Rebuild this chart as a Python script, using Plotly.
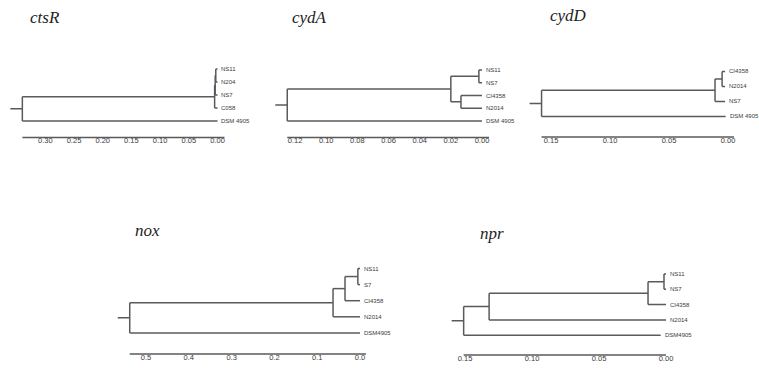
import plotly.graph_objects as go

W, H = 759, 368

# ---------------- data ----------------
genes = ["ctsR", "cydA", "cydD", "nox", "npr"]

ctsR_leaves = ["NS11", "N204", "NS7", "C058", "DSM 4905"]
ctsR_tip_heights = [0.0, 0.0, 0.0, 0.0, 0.0]
ctsR_node_children = [[0, 1], [5, 2], [6, 3], [7, 4]]
ctsR_node_heights = [0.003, 0.004, 0.005, 0.340]
ctsR_ticks = [0.30, 0.25, 0.20, 0.15, 0.10, 0.05, 0.00]

cydA_leaves = ["NS11", "NS7", "CI4358", "N2014", "DSM 4905"]
cydA_tip_heights = [0.0, 0.0, 0.0, 0.0, 0.0]
cydA_node_children = [[0, 1], [2, 3], [5, 6], [7, 4]]
cydA_node_heights = [0.002, 0.0135, 0.020, 0.125]
cydA_ticks = [0.12, 0.10, 0.08, 0.06, 0.04, 0.02, 0.00]

cydD_leaves = ["CI4358", "N2014", "NS7", "DSM 4905"]
cydD_tip_heights = [0.0025, 0.0025, 0.0025, 0.002]
cydD_node_children = [[0, 1], [4, 2], [5, 3]]
cydD_node_heights = [0.005, 0.011, 0.158]
cydD_ticks = [0.15, 0.10, 0.05, 0.00]

nox_leaves = ["NS11", "S7", "CI4358", "N2014", "DSM4905"]
nox_tip_heights = [0.0, 0.0, 0.0, 0.0, 0.0]
nox_node_children = [[0, 1], [5, 2], [6, 3], [7, 4]]
nox_node_heights = [0.005, 0.035, 0.063, 0.538]
nox_ticks = [0.5, 0.4, 0.3, 0.2, 0.1, 0.0]

npr_leaves = ["NS11", "NS7", "CI4358", "N2014", "DSM4905"]
npr_tip_heights = [0.0, 0.0, 0.0, 0.0, 0.004]
npr_node_children = [[0, 1], [5, 2], [6, 3], [7, 4]]
npr_node_heights = [0.0015, 0.0134, 0.132, 0.151]
npr_ticks = [0.15, 0.10, 0.05, 0.00]

# ---------------- layout (pixel placement of each panel) ----------------
panels = [
    dict(gene=genes[0], leaves=ctsR_leaves, tips=ctsR_tip_heights, children=ctsR_node_children,
         heights=ctsR_node_heights, ticks=ctsR_ticks, fmt="{:.2f}",
         zero_px=217.5, ppu=574, row0=69, row_px=13, scale_px=137.5, ext=7, tx=28, ty=17),
    dict(gene=genes[1], leaves=cydA_leaves, tips=cydA_tip_heights, children=cydA_node_children,
         heights=cydA_node_heights, ticks=cydA_ticks, fmt="{:.2f}",
         zero_px=482, ppu=1558, row0=70, row_px=12.75, scale_px=137.5, ext=7, tx=290, ty=17),
    dict(gene=genes[2], leaves=cydD_leaves, tips=cydD_tip_heights, children=cydD_node_children,
         heights=cydD_node_heights, ticks=cydD_ticks, fmt="{:.2f}",
         zero_px=728, ppu=1180, row0=71.5, row_px=15, scale_px=137, ext=6, tx=548, ty=16),
    dict(gene=genes[3], leaves=nox_leaves, tips=nox_tip_heights, children=nox_node_children,
         heights=nox_node_heights, ticks=nox_ticks, fmt="{:.1f}",
         zero_px=360, ppu=428, row0=268.5, row_px=16.1, scale_px=354, ext=6, tx=133, ty=230),
    dict(gene=genes[4], leaves=npr_leaves, tips=npr_tip_heights, children=npr_node_children,
         heights=npr_node_heights, ticks=npr_ticks, fmt="{:.2f}",
         zero_px=666, ppu=1340, row0=274, row_px=15.3, scale_px=355, ext=0, tx=478, ty=233),
]

LINE = "#5a5a5a"
TXT = "#3a3a3a"

fig = go.Figure()
annotations = []
layout = {}

for i, p in enumerate(panels):
    suf = "" if i == 0 else str(i + 1)
    xa, ya = "x" + suf, "y" + suf
    n = len(p["leaves"])
    ypos = list(range(n))
    xpos = list(p["tips"])
    sx, sy = [], []
    for ch, h in zip(p["children"], p["heights"]):
        ys = [ypos[c] for c in ch]
        sx += [h, h, None]
        sy += [min(ys), max(ys), None]
        for c in ch:
            sx += [h, xpos[c], None]
            sy += [ypos[c], ypos[c], None]
        ypos.append((min(ys) + max(ys)) / 2)
        xpos.append(h)
    root_h = p["heights"][-1]
    stub = 12 / p["ppu"]
    sx += [root_h + stub, root_h, None]
    sy += [ypos[-1], ypos[-1], None]
    # scale bar
    yscale = (p["scale_px"] - p["row0"]) / p["row_px"]
    sx += [root_h, min(0, min(p["tips"])) - p["ext"] / p["ppu"], None]
    sy += [yscale, yscale, None]

    fig.add_trace(go.Scatter(x=sx, y=sy, mode="lines", xaxis=xa, yaxis=ya,
                             line=dict(color=LINE, width=1.5), hoverinfo="skip",
                             showlegend=False))

    for k in range(n):
        annotations.append(dict(x=p["tips"][k], y=k, xref=xa, yref=ya, text=p["leaves"][k],
                                showarrow=False, xanchor="left", yanchor="middle", xshift=2,
                                font=dict(family="Liberation Sans, Arial", size=6, color=TXT)))
    annotations.append(dict(x=p["tx"] / W, y=1 - p["ty"] / H, xref="paper", yref="paper",
                            text="<i>" + p["gene"] + "</i>", showarrow=False,
                            xanchor="left", yanchor="middle",
                            font=dict(family="Liberation Serif, Times New Roman", size=17,
                                      color="#222")))

    root_px = p["zero_px"] - root_h * p["ppu"]
    xl, xr = root_px - 14, p["zero_px"] + 12
    top_px = p["row0"] - p["row_px"]
    bot_px = p["scale_px"] + 2
    layout["xaxis" + suf] = dict(
        domain=[xl / W, xr / W],
        range=[(p["zero_px"] - xl) / p["ppu"], (p["zero_px"] - xr) / p["ppu"]],
        tickvals=p["ticks"], ticktext=[p["fmt"].format(t) for t in p["ticks"]],
        anchor="free", position=1 - (p["scale_px"] - 3) / H,
        showline=False, showgrid=False, zeroline=False, ticks="",
        tickfont=dict(family="Liberation Sans Narrow, Liberation Sans, Arial", size=7.5, color=TXT),
        fixedrange=True)
    layout["yaxis" + suf] = dict(
        domain=[1 - bot_px / H, 1 - top_px / H],
        range=[(bot_px - p["row0"]) / p["row_px"], (top_px - p["row0"]) / p["row_px"]],
        visible=False, fixedrange=True, anchor=xa)

fig.update_layout(width=W, height=H, margin=dict(l=0, r=0, t=0, b=0),
                  paper_bgcolor="white", plot_bgcolor="white", showlegend=False,
                  annotations=annotations, **layout)

fig.write_html("out.html")
